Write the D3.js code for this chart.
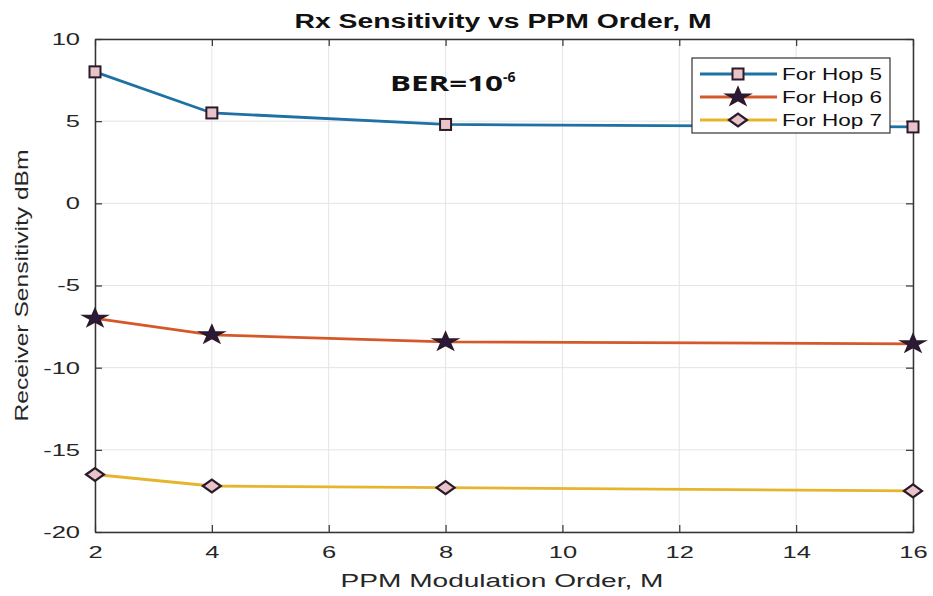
<!DOCTYPE html>
<html><head><meta charset="utf-8">
<script src="https://cdn.jsdelivr.net/npm/d3@7"></script>
<style>body{margin:0;background:#fff;} svg{display:block;font-family:Arial,"Liberation Sans",sans-serif;}</style>
</head><body>
<svg id="chart" width="933" height="596"></svg>
<script>
const orders = [2, 4, 8, 16];
const hop5 = [8.0, 5.5, 4.8, 4.65];
const hop6 = [-7.0, -8.0, -8.43, -8.55];
const hop7 = [-16.5, -17.2, -17.3, -17.5];
const seriesNames = ["For Hop 5", "For Hop 6", "For Hop 7"];
const xTicks = [2, 4, 6, 8, 10, 12, 14, 16];
const yTicks = [-20, -15, -10, -5, 0, 5, 10];

const colors = ["#1f70a3", "#d5582a", "#e6b52e"];
const markerFill = ["#e8c4c8", "#2c1838", "#e8c4c8"];

const svg = d3.select("#chart");
const m = {l: 95, r: 20, t: 39, b: 64};
const W = 933, H = 596;
const x = d3.scaleLinear().domain([2, 16]).range([m.l, W - m.r]);
const y = d3.scaleLinear().domain([-20, 10]).range([H - m.b, m.t]);

function stretch(sel, f) {
  sel.each(function() {
    const w = this.getComputedTextLength();
    d3.select(this).attr("textLength", w * f).attr("lengthAdjust", "spacingAndGlyphs");
  });
}
function fit(sel, len) {
  sel.attr("textLength", len).attr("lengthAdjust", "spacingAndGlyphs");
}

// markers
function drawMarker(parent, k, cx, cy) {
  const gm = parent.append("g").attr("transform", `translate(${cx},${cy})`);
  if (k === 0) {
    gm.append("rect").attr("x", -5.5).attr("y", -5.5).attr("width", 11).attr("height", 11)
      .attr("fill", markerFill[0]).attr("stroke", "#2a1a2a").attr("stroke-width", 2);
  } else if (k === 1) {
    gm.append("path").attr("transform", "scale(1.35,1)")
      .attr("d", d3.symbol().type(d3.symbolStar).size(95))
      .attr("fill", markerFill[1]).attr("stroke", "#2a1a2a").attr("stroke-width", 1.5);
  } else {
    gm.append("path").attr("d", "M-9,0L0,-6.5L9,0L0,6.5Z")
      .attr("fill", markerFill[2]).attr("stroke", "#2a1a2a").attr("stroke-width", 2.2);
  }
}

const g = svg.append("g");
// grid
g.selectAll(".gx").data(xTicks).enter().append("line")
  .attr("x1", d => x(d)).attr("x2", d => x(d)).attr("y1", y(-20)).attr("y2", y(10))
  .attr("stroke", "#e4e4e4").attr("stroke-width", 1);
g.selectAll(".gy").data(yTicks).enter().append("line")
  .attr("y1", d => y(d)).attr("y2", d => y(d)).attr("x1", x(2)).attr("x2", x(16))
  .attr("stroke", "#e4e4e4").attr("stroke-width", 1);

// axes
const fmt = d => String(d);
const ax = d3.axisBottom(x).tickValues(xTicks).tickFormat(fmt).tickSize(-7).tickPadding(14).tickSizeOuter(0);
const ay = d3.axisLeft(y).tickValues(yTicks).tickFormat(fmt).tickSize(-7).tickPadding(15).tickSizeOuter(0);
const axT = d3.axisTop(x).tickValues(xTicks).tickSize(-7).tickFormat("").tickSizeOuter(0);
const ayR = d3.axisRight(y).tickValues(yTicks).tickSize(-7).tickFormat("").tickSizeOuter(0);
function styleAxis(sel){
  sel.selectAll("path").attr("stroke", "#333").attr("stroke-width", 1.5);
  sel.selectAll("line").attr("stroke", "#333").attr("stroke-width", 1.2);
  sel.selectAll("text").attr("fill", "#262626").style("font-size", "17px").style("font-family", "Arial,'Liberation Sans',sans-serif");
}
const gxA = svg.append("g").attr("transform", `translate(0,${y(-20)})`).call(ax).call(styleAxis);
const gyA = svg.append("g").attr("transform", `translate(${x(2)},0)`).call(ay).call(styleAxis);
svg.append("g").attr("transform", `translate(0,${y(10)})`).call(axT).call(styleAxis);
svg.append("g").attr("transform", `translate(${x(16)},0)`).call(ayR).call(styleAxis);
stretch(gxA.selectAll("text"), 1.5);
stretch(gyA.selectAll("text"), 1.5);

// lines
const allSeries = [hop5, hop6, hop7];
const line = d3.line().x((d, i) => x(orders[i])).y(d => y(d));
allSeries.forEach((s, k) => {
  svg.append("path").datum(s).attr("d", line).attr("fill", "none")
    .attr("stroke", colors[k]).attr("stroke-width", 2.8);
});
allSeries.forEach((s, k) => {
  s.forEach((d, i) => drawMarker(svg, k, x(orders[i]), y(d)));
});

// title & labels
fit(svg.append("text").attr("x", 503).attr("y", 28).attr("text-anchor", "middle")
  .style("font-size", "20px").style("font-weight", "bold").attr("fill", "#111")
  .text("Rx Sensitivity vs PPM Order, M"), 417);
fit(svg.append("text").attr("x", 502).attr("y", 587).attr("text-anchor", "middle")
  .style("font-size", "18px").attr("fill", "#262626").text("PPM Modulation Order, M"), 323);
fit(svg.append("text").attr("transform", `translate(28,${(y(-20) + y(10)) / 2}) rotate(-90)`)
  .attr("text-anchor", "middle").style("font-size", "19px").attr("fill", "#262626")
  .text("Receiver Sensitivity dBm"), 272);

// BER annotation
const ber = svg.append("text").attr("x", 390).attr("y", 91)
  .style("font-size", "22px").style("font-weight", "bold").attr("fill", "#111")
  .style("font-family", "'Open Sans','DejaVu Sans',sans-serif");
ber.append("tspan").text("BER=10").attr("textLength", 113).attr("lengthAdjust", "spacingAndGlyphs");
ber.append("tspan").attr("dy", -9).style("font-size", "14px").text("-6");

// legend
const lg = svg.append("g").attr("transform", "translate(692,58)");
lg.append("rect").attr("width", 198).attr("height", 75).attr("fill", "#fff")
  .attr("stroke", "#333").attr("stroke-width", 1.2);
seriesNames.forEach((n, k) => {
  const yy = 16 + k * 23;
  lg.append("line").attr("x1", 8).attr("x2", 85).attr("y1", yy).attr("y2", yy)
    .attr("stroke", colors[k]).attr("stroke-width", 2.8);
  drawMarker(lg, k, 46, yy);
  fit(lg.append("text").attr("x", 90).attr("y", yy + 6).style("font-size", "16px")
    .attr("fill", "#111").text(n), 100);
});
</script>
</body></html>
